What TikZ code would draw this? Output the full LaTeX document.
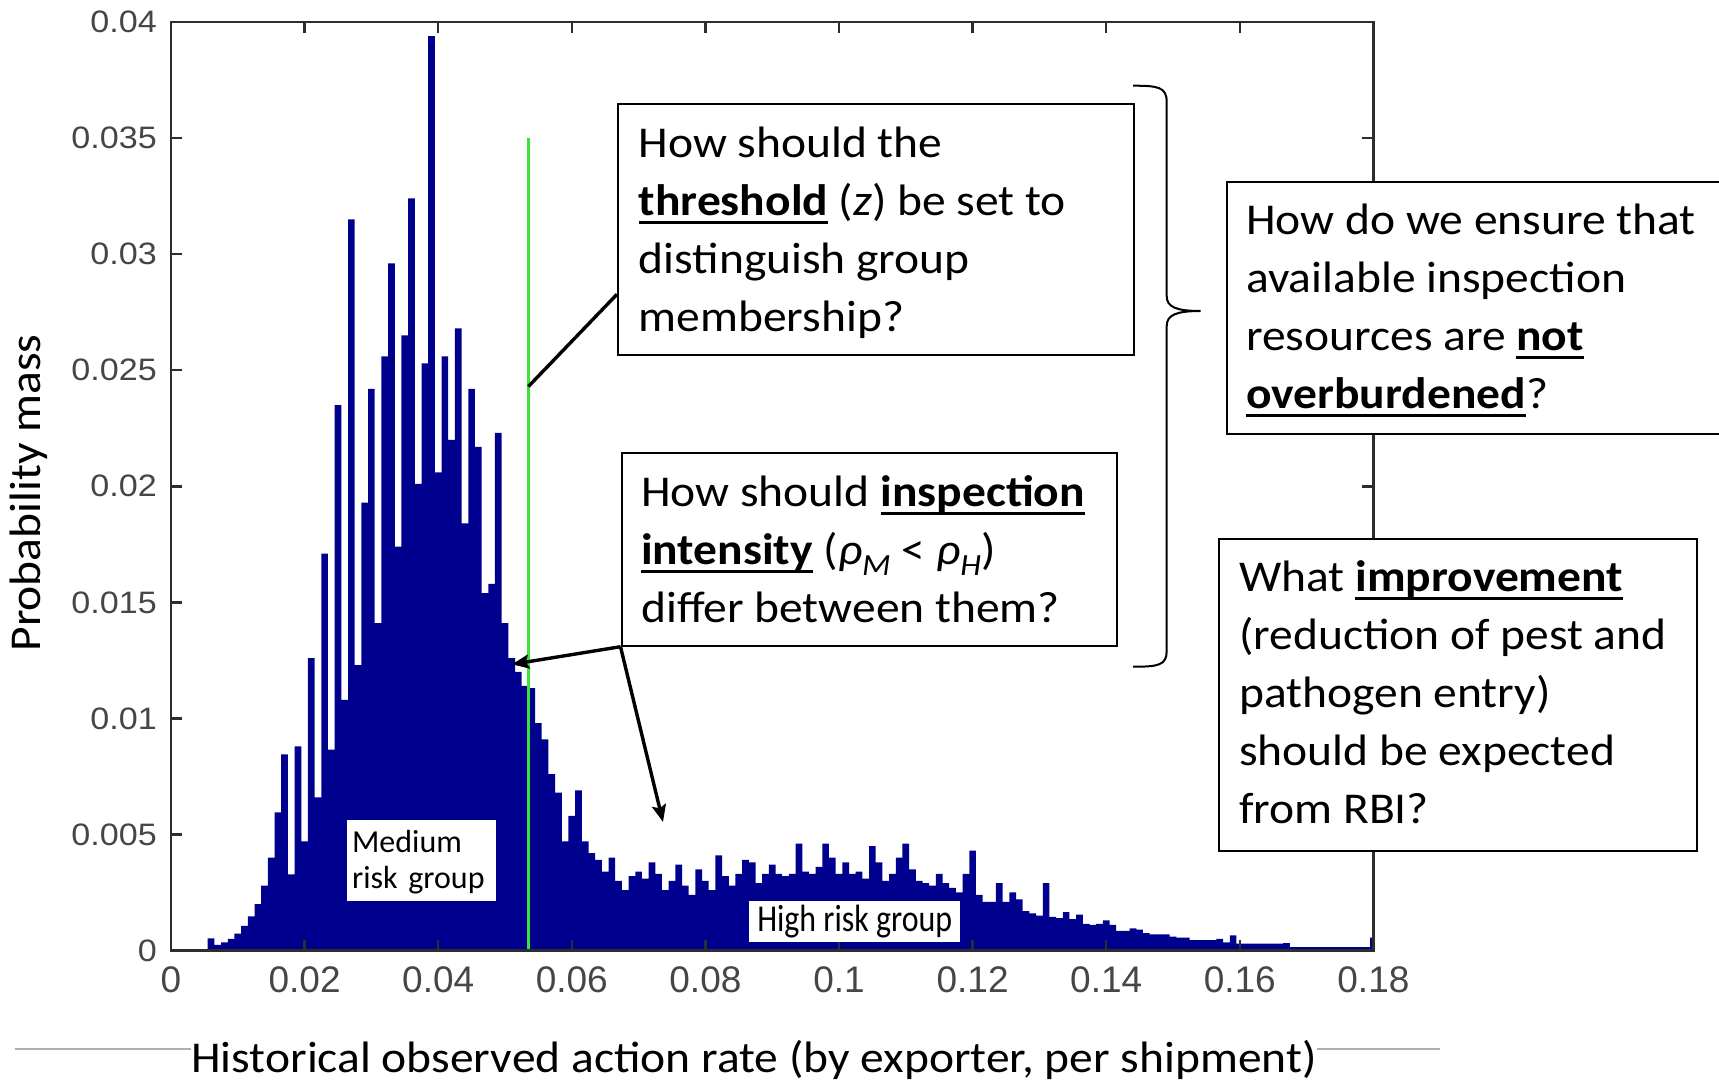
\documentclass[tikz,border=0pt]{standalone}
\usepackage{fontspec}
\usetikzlibrary{arrows.meta,calc}
\setmainfont{Carlito}
\newfontfamily\boxfont[FakeStretch=1.08]{Carlito}
\newfontfamily\lblfont{Carlito}
\newfontfamily\condfont[FakeStretch=0.84]{Carlito}
\newfontfamily\axfont{Liberation Sans}
\newfontfamily\axwidefont[FakeStretch=1.1]{Liberation Sans}
% bold, underlined key word
\newsavebox{\qulbox}
\newcommand{\qul}[1]{\sbox{\qulbox}{\textbf{#1}}%
  \rlap{\rule[-8.5pt]{\wd\qulbox}{2.8pt}}\usebox{\qulbox}}
\definecolor{histblue}{RGB}{0,0,143}
\definecolor{zgreen}{RGB}{60,225,60}
\definecolor{axgray}{RGB}{45,45,45}
\definecolor{ticklbl}{RGB}{70,70,70}
\definecolor{rulegray}{RGB}{175,175,175}
\tikzset{
  qbox/.style={draw=black, line width=2pt, fill=white, inner sep=0pt, anchor=north west},
  qtext/.style={anchor=north west, inner sep=0pt, align=left,
                font=\boxfont\fontsize{44}{58}\selectfont},
  conn/.style={line width=3.4pt, black},
  arr/.style={conn, -{Stealth[length=17pt,width=14pt,inset=3pt]}},
  ytl/.style={anchor=east, text=ticklbl, inner sep=0pt,
              font=\axwidefont\fontsize{31}{31}\selectfont},
  xtl/.style={anchor=center, text=ticklbl, inner sep=0pt,
              font=\axfont\fontsize{37}{37}\selectfont},
  axline/.style={draw=axgray, line width=2.4pt}
}
\begin{document}
\begin{tikzpicture}[x=1pt,y=-1pt]
\fill[white] (0,0) rectangle (1719,1081);
\useasboundingbox (0,0) rectangle (1719,1081);

% light rule under the horizontal axis title
\draw[rulegray, line width=2pt] (15,1049) -- (1440,1049);

% histogram panel: x in units of 0.001, y in units of 0.001
\begin{scope}[shift={(171pt,-950.5pt)}, x=6.68pt, y=23.21pt]
  \fill[histblue] (5.5,0)
    \foreach \c/\h in {6/0.52,7/0.24,8/0.35,9/0.5,10/0.73,11/1.06,12/1.47,13/2.0,
      14/2.8,15/4.0,16/5.95,17/8.45,18/3.28,19/8.8,20/4.7,21/12.6,22/6.6,23/17.1,
      24/8.65,25/23.5,26/10.8,27/31.5,28/12.3,29/19.3,30/24.2,31/14.1,32/25.6,
      33/29.6,34/17.4,35/26.5,36/32.4,37/20.1,38/25.3,39/39.4,40/20.6,41/25.6,
      42/22.0,43/26.8,44/18.4,45/24.2,46/21.7,47/15.4,48/15.8,49/22.3,50/14.1,
      51/12.6,52/12.0,53/11.4,54/11.3,55/9.8,56/9.1,57/7.6,58/6.8,59/4.7,
      60/5.8,61/6.9,62/4.7,63/4.2,64/3.9,65/3.4,66/4.0,67/3.0,68/2.6,69/3.2,
      70/3.4,71/3.1,72/3.8,73/3.3,74/2.6,75/3.0,76/3.7,77/2.8,78/2.4,79/3.5,
      80/3.0,81/2.6,82/4.1,83/3.2,84/2.8,85/3.3,86/3.9,87/3.8,88/2.9,89/3.3,
      90/3.7,91/3.3,92/3.2,93/3.3,94/4.6,95/3.4,96/3.3,97/3.6,98/4.6,99/4.0,
      100/3.3,101/3.8,102/3.3,103/3.4,104/3.1,105/4.5,106/3.8,107/3.0,108/3.3,
      109/4.0,110/4.6,111/3.5,112/3.0,113/2.9,114/2.8,115/3.3,116/2.9,117/2.7,
      118/2.5,119/3.3,120/4.3,121/2.4,122/2.1,123/2.1,124/2.9,125/2.1,126/2.5,
      127/2.2,128/1.7,129/1.6,130/1.5,131/2.9,132/1.45,133/1.4,134/1.65,
      135/1.35,136/1.55,137/1.15,138/1.1,139/1.15,140/1.3,141/1.1,142/0.85,
      143/0.85,144/0.95,145/0.9,146/0.75,147/0.7,148/0.7,149/0.7,150/0.6,
      151/0.55,152/0.55,153/0.45,154/0.45,155/0.45,156/0.45,157/0.5,158/0.35,
      159/0.65,160/0.3,161/0.3,162/0.3,163/0.3,164/0.3,165/0.3,166/0.3,167/0.32,
      168/0.15,169/0.15,170/0.15,171/0.15,172/0.15,173/0.15,174/0.15,175/0.15,
      176/0.15,177/0.15,178/0.15,179/0.15}
    { |- (\c+0.5,\h) }
    |- (180,0.55) -- (180,0) -- cycle;

  % threshold z
  \draw[zgreen, line width=2.6pt] (53.5,0) -- (53.5,35);

  % axes box and inward ticks
  \draw[axline] (0,0) rectangle (180,40);
  \foreach \v in {20,40,...,160} {
    \draw[axline] (\v,0) -- ++(0,11pt);
    \draw[axline] (\v,40) -- ++(0,-11pt);
  }
  \foreach \w in {5,10,...,35} {
    \draw[axline] (0,\w) -- ++(11pt,0);
    \draw[axline] (180,\w) -- ++(-11pt,0);
  }

  % tick labels
  \foreach \v/\t in {0/0,20/0.02,40/0.04,60/0.06,80/0.08,100/0.1,120/0.12,
                     140/0.14,160/0.16,180/0.18}
    \node[xtl, yshift=-29pt] (xl\v) at (\v,0) {\t};
  \foreach \w/\t in {0/0,5/0.005,10/0.01,15/0.015,20/0.02,25/0.025,30/0.03,
                     35/0.035,40/0.04}
    \node[ytl, xshift=-14pt] (yl\w) at (0,\w) {\t};

  % connector end points on the plot
  \coordinate (zpt) at (53.5,24.3);
  \coordinate (tipM) at (51.05,12.33);
  \coordinate (tipH) at (73.65,5.54);
\end{scope}

% group labels inside the histogram
\node[fill=white, anchor=north west, minimum width=149pt, minimum height=81pt,
      inner xsep=5.5pt, inner ysep=0pt, text width=138pt, align=left,
      font=\lblfont\fontsize{32}{36}\selectfont] (med) at (346.4,820)
      {\rule{0pt}{26pt}Medium\\risk group};
\node[fill=white, anchor=north west, minimum width=211pt, minimum height=41pt,
      inner sep=0pt, font=\condfont\fontsize{38}{40}\selectfont] (high) at (749,901)
      {High risk group};

% question boxes
\node[qbox, minimum width=515.5pt, minimum height=251pt] (b1) at (617,103) {};
\node[qbox, minimum width=495.5pt, minimum height=193pt] (b2) at (620.5,451.7) {};
\node[qbox, minimum width=500pt, minimum height=252pt] (b3) at (1225.7,180.9) {};
\node[qbox, minimum width=478pt, minimum height=311.3pt] (b4) at (1218,538.3) {};

\node[qtext] (t1) at (638.5,117) {\rule{0pt}{40pt}How should the\\
  \qul{threshold} (\textit{z}) be set to\\ distinguish group\\ membership?};
\node[qtext] (t2) at (641,466) {\rule{0pt}{40pt}How should \qul{inspection}\\
  \qul{intensity} (\textit{ρ}\textsubscript{\textit{M}} <
  \textit{ρ}\textsubscript{\textit{H}})\\ differ between them?};
\node[qtext] (t3) at (1246,194) {\rule{0pt}{40pt}How do we ensure that\\
  available inspection\\ resources are \qul{not}\\ \qul{overburdened}?};
\node[qtext] (t4) at (1239,551) {\rule{0pt}{40pt}What \qul{improvement}\\
  (reduction of pest and\\ pathogen entry)\\ should be expected\\ from RBI?};

% connectors from the questions to the plot
\draw[conn] ($(b1.north west)!0.756!(b1.south west)$) -- (zpt);
\draw[arr] (b2.south west) -- (tipM);
\draw[arr] (b2.south west) -- (tipH);

% brace grouping the two left questions
\draw[line width=2pt] (1133,85.7) .. controls (1158,85.7) and (1166.7,87) .. (1166.7,102)
  -- (1166.7,296) .. controls (1166.7,307) and (1176,311) .. (1200.7,311)
  .. controls (1176,311) and (1166.7,315) .. (1166.7,326)
  -- (1166.7,651) .. controls (1166.7,665.4) and (1158,666.7) .. (1133,666.7);

% axis titles
\node[rotate=90, anchor=base, font=\boxfont\fontsize{44}{50}\selectfont] (ylab)
  at (40.6,493) {Probability mass};
\node[anchor=base, fill=white, inner sep=0pt,
      font=\boxfont\fontsize{44}{50}\selectfont] (xlab) at (754,1072)
  {Historical observed action rate (by exporter, per shipment)};
\end{tikzpicture}
\end{document}
